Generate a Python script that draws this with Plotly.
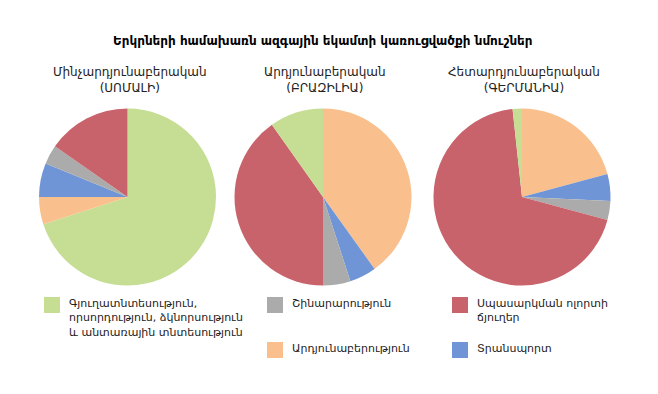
import plotly.graph_objects as go

W, H = 658, 394

# ---- data ----
categories = [
    "Գյուղատնտեսություն,<br>որսորդություն, ձկնորսություն<br>և անտառային տնտեսություն",
    "Շինարարություն",
    "Սպասարկման ոլորտի<br>ճյուղեր",
    "Արդյունաբերություն",
    "Տրանսպորտ",
]
short = ["agri", "constr", "services", "industry", "transport"]
colors = {"agri": "#C5DE93", "constr": "#ABABAB", "services": "#C9636B",
          "industry": "#F9C08E", "transport": "#6F95D7"}

pie_titles = ["Մինչարդյունաբերական<br>(ՍՈՄԱԼԻ)",
              "Արդյունաբերական<br>(ԲՐԱԶԻԼԻԱ)",
              "Հետարդյունաբերական<br>(ԳԵՐՄԱՆԻԱ)"]
chart_title = "Երկրների համախառն ազգային եկամտի կառուցվածքի նմուշներ"

# slice order (clockwise from 12 o'clock) and values in %
somalia_order = ["agri", "industry", "transport", "constr", "services"]
somalia_values = [70.0, 5.0, 6.2, 3.5, 15.3]
brazil_order = ["industry", "transport", "constr", "services", "agri"]
brazil_values = [40.1, 4.9, 5.0, 40.2, 9.8]
germany_order = ["industry", "transport", "constr", "services", "agri"]
germany_values = [20.8, 4.9, 3.5, 69.1, 1.7]

pies = [(somalia_order, somalia_values), (brazil_order, brazil_values),
        (germany_order, germany_values)]
centers_px = [(127.5, 197), (323, 197), (522, 197)]
radius_px = 88.5

fig = go.Figure()
for (order, vals), (cx, cy) in zip(pies, centers_px):
    fig.add_trace(go.Pie(
        labels=[categories[short.index(k)] for k in order],
        values=vals,
        marker=dict(colors=[colors[k] for k in order], line=dict(width=0)),
        sort=False, direction="clockwise", rotation=0,
        textinfo="none", hoverinfo="label+percent", showlegend=False,
        domain=dict(x=[(cx - radius_px) / W, (cx + radius_px) / W],
                    y=[(H - cy - radius_px) / H, (H - cy + radius_px) / H]),
    ))

FONT = "DejaVu Sans"
ann = [dict(text="<b>" + chart_title + "</b>", x=323 / W, y=1 - 41 / H,
            xref="paper", yref="paper", showarrow=False, xanchor="center",
            yanchor="middle", font=dict(size=12, color="#000", family=FONT))]
for t, (cx, cy) in zip(pie_titles, centers_px):
    ann.append(dict(text=t, x=(cx + 2) / W, y=1 - 79.5 / H, xref="paper", yref="paper",
                    showarrow=False, xanchor="center", yanchor="middle",
                    font=dict(size=12, color="#222", family=FONT)))

# legend (custom grid)
legend_pos = {"agri": (44, 297), "constr": (267, 297), "services": (452, 297),
              "industry": (267, 342), "transport": (452, 342)}
shapes = []
for k, lab in zip(short, categories):
    x0, y0 = legend_pos[k]
    shapes.append(dict(type="rect", xref="paper", yref="paper",
                       x0=x0 / W, x1=(x0 + 16) / W, y0=1 - (y0 + 16) / H, y1=1 - y0 / H,
                       fillcolor=colors[k], line=dict(width=0)))
    ann.append(dict(text=lab, x=(x0 + 23) / W, y=1 - (y0 - 2) / H, xref="paper", yref="paper",
                    showarrow=False, xanchor="left", yanchor="top", align="left",
                    font=dict(size=11, color="#222", family=FONT)))

fig.update_layout(width=W, height=H, margin=dict(l=0, r=0, t=0, b=0),
                  paper_bgcolor="white", plot_bgcolor="white",
                  annotations=ann, shapes=shapes, showlegend=False)
fig.write_html("out.html", config={"displayModeBar": False},
               post_script="document.body.style.margin='0';")
